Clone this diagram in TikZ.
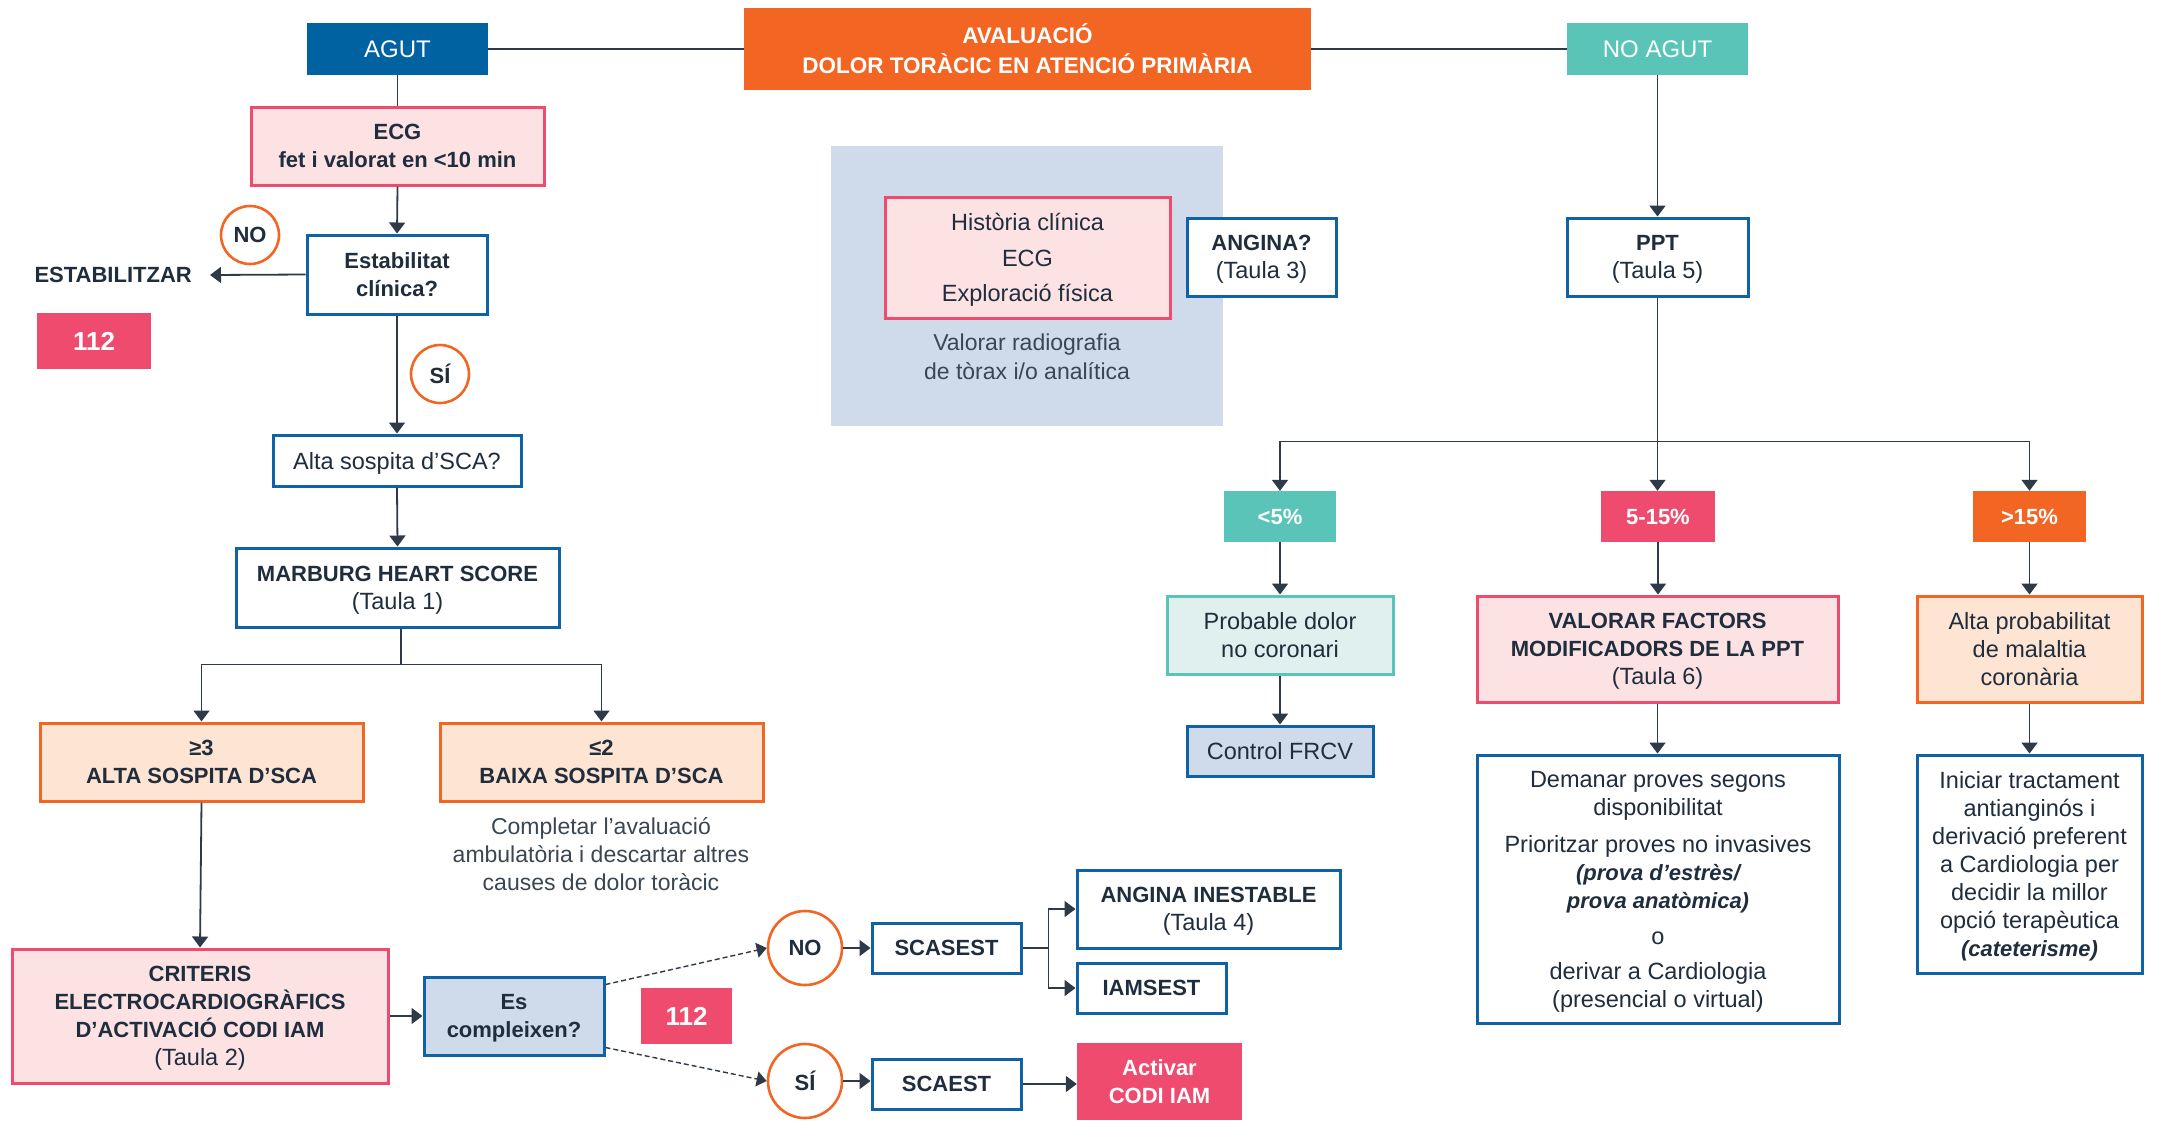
\documentclass[tikz,border=0pt]{standalone}
\usepackage{fontspec}
\setmainfont{Liberation Sans}
\usetikzlibrary{arrows.meta,calc}
\definecolor{navy}{HTML}{0062A0}
\definecolor{bord}{HTML}{0F62A6}
\definecolor{orng}{HTML}{F26522}
\definecolor{teal2}{HTML}{5BC4B9}
\definecolor{pinkred}{HTML}{EE4B6F}
\definecolor{pinkfill}{HTML}{FDE2E3}
\definecolor{orngfill}{HTML}{FDE4D3}
\definecolor{bluegray}{HTML}{CFDBEA}
\definecolor{tealfill}{HTML}{DFF0EE}
\definecolor{txt}{HTML}{1F2D3D}
\definecolor{lin}{HTML}{2E3A47}
\definecolor{soft}{HTML}{3A4652}
\newcommand{\hb}[1]{{\fontsize{22}{28}\selectfont\bfseries #1}}
\newcommand{\hbi}[1]{{\fontsize{22}{28}\selectfont\bfseries\itshape #1}}
\begin{document}
\begin{tikzpicture}[x=1pt,y=-1pt,
  every node/.style={font=\fontsize{23.5}{28}\selectfont, text=txt, inner sep=0pt, align=center, text depth=0pt},
  sz/.style 2 args={minimum width=#1, minimum height=#2},
  box/.style={rectangle, line width=3pt},
  bluebox/.style={box, draw=bord, fill=white},
  pinkbox/.style={box, draw=pinkred, fill=pinkfill},
  orngbox/.style={box, draw=orng, fill=orngfill},
  filled/.style={rectangle, fill=#1, text=white},
  bf/.style={font=\fontsize{22}{28}\selectfont\bfseries},
  big/.style={font=\fontsize{26}{30}\selectfont\bfseries},
  circ/.style={circle, draw=orng, line width=2.6pt, fill=white, font=\fontsize{22}{26}\selectfont\bfseries},
  ln/.style={draw=lin, line width=1.8pt},
  arr/.style={ln, -{Triangle[width=16pt,length=11pt]}},
  dsh/.style={draw=lin, line width=1.4pt, dash pattern=on 5pt off 3pt, -{Triangle[width=15pt,length=10pt]}}
]
\useasboundingbox (0,0) rectangle (2157,1120);

% ---------- top row
\node[filled=navy, sz={181pt}{52pt}, font=\fontsize{24}{28}\selectfont] (agut) at (397.5,49) {AGUT};
\node[filled=orng, sz={567pt}{82pt}, font=\fontsize{22.5}{30}\selectfont\bfseries] (title) at (1027.5,49) {AVALUACIÓ\\DOLOR TORÀCIC EN ATENCIÓ PRIMÀRIA};
\node[filled=teal2, sz={181pt}{52pt}, font=\fontsize{24}{28}\selectfont] (noagut) at (1657.5,49) {NO AGUT};

% ---------- left column
\node[pinkbox, sz={293pt}{78pt}, bf] (ecg) at (397.5,146) {ECG\\fet i valorat en <10 min};
\node[bluebox, sz={180pt}{79pt}, bf] (estab) at (397,274.5) {Estabilitat\\clínica?};
\node[circ, minimum size=58pt] (no1) at (250,235) {NO};
\node[bf, anchor=east, inner xsep=18pt] (estabil) at (210,275) {ESTABILITZAR};
\node[filled=pinkred, sz={114pt}{56pt}, big] (n112a) at (94,341) {112};
\node[circ, minimum size=58pt] (si1) at (440,374) {SÍ};
\node[bluebox, sz={248pt}{51pt}] (alta) at (397,460.5) {Alta sospita d’SCA?};
\node[bluebox, sz={323pt}{79pt}] (marburg) at (397.5,587.5) {\hb{MARBURG HEART SCORE}\\(Taula 1)};
\node[orngbox, sz={323pt}{78pt}, bf] (ge3) at (201.5,762) {≥3\\ALTA SOSPITA D’SCA};
\node[orngbox, sz={323pt}{78pt}, bf] (le2) at (601.5,762) {≤2\\BAIXA SOSPITA D’SCA};
\node[text=soft, font=\fontsize{23}{28}\selectfont] (completar) at (601,854) {Completar l’avaluació\\ambulatòria i descartar altres\\causes de dolor toràcic};
\node[pinkbox, sz={376pt}{134pt}] (criteris) at (200,1016) {\hb{CRITERIS}\\\hb{ELECTROCARDIOGRÀFICS}\\\hb{D’ACTIVACIÓ CODI IAM}\\(Taula 2)};
\node[box, draw=bord, fill=bluegray, sz={180pt}{78pt}, bf] (es) at (514,1016) {Es\\compleixen?};
\node[filled=pinkred, sz={91pt}{56pt}, big] (n112b) at (686.5,1016) {112};
\node[circ, minimum size=74pt] (no2) at (805,948) {NO};
\node[circ, minimum size=74pt] (si2) at (805,1081) {SÍ};
\node[bluebox, sz={149pt}{50pt}, bf] (scasest) at (946.5,948) {SCASEST};
\node[bluebox, sz={263pt}{78pt}] (anginain) at (1208.5,909) {\hb{ANGINA INESTABLE}\\(Taula 4)};
\node[bluebox, sz={149pt}{50pt}, bf] (iamsest) at (1151.5,988) {IAMSEST};
\node[bluebox, sz={149pt}{50pt}, bf] (scaest) at (946.5,1084) {SCAEST};
\node[filled=pinkred, sz={165pt}{77pt}, bf, text=white] (activar) at (1159.5,1081.5) {Activar\\CODI IAM};

% ---------- middle panel
\node[rectangle, fill=bluegray, sz={392pt}{280pt}] (panel) at (1027,286) {};
\node[pinkbox, sz={285pt}{121pt}, font=\fontsize{23.5}{35.5}\selectfont] (hist) at (1027.5,257.5) {Història clínica\\ECG\\Exploració física};
\node[text=soft, font=\fontsize{23}{29}\selectfont] (radio) at (1027,357) {Valorar radiografia\\de tòrax i/o analítica};
\node[bluebox, sz={149pt}{78pt}] (anginaq) at (1261.5,257) {\hb{ANGINA?}\\(Taula 3)};

% ---------- right column
\node[bluebox, sz={181pt}{78pt}] (ppt) at (1657.5,257) {\hb{PPT}\\(Taula 5)};
\node[filled=teal2, sz={112pt}{51pt}, bf, text=white] (lt5) at (1280,516.5) {<5\%};
\node[filled=pinkred, sz={114pt}{51pt}, bf, text=white] (mid) at (1658,516.5) {5-15\%};
\node[filled=orng, sz={113pt}{51pt}, bf, text=white] (gt15) at (2029.5,516.5) {>15\%};
\node[box, draw=teal2, fill=tealfill, sz={226pt}{78pt}] (probable) at (1280,635) {Probable dolor\\no coronari};
\node[pinkbox, sz={361pt}{106pt}] (valorar) at (1657.5,649) {\hb{VALORAR FACTORS}\\\hb{MODIFICADORS DE LA PPT}\\(Taula 6)};
\node[orngbox, sz={225pt}{106pt}] (altaprob) at (2029.5,649) {Alta probabilitat\\de malaltia\\coronària};
\node[box, draw=bord, fill=bluegray, sz={186pt}{50pt}] (control) at (1280,751) {Control FRCV};
\node[bluebox, sz={362pt}{268pt}] (demanar) at (1658,889) {Demanar proves segons\\disponibilitat\\[9pt]Prioritzar proves no invasives\\\hbi{(prova d’estrès/}\\\hbi{prova anatòmica)}\\[8pt]o\\[7pt]derivar a Cardiologia\\(presencial o virtual)};
\node[bluebox, sz={225pt}{218pt}] (iniciar) at (2029.5,864) {Iniciar tractament\\antianginós i\\derivació preferent\\a Cardiologia per\\decidir la millor\\opció terapèutica\\\hbi{(cateterisme)}};

% ---------- connectors
\draw[ln] (agut.east) -- (title.west);
\draw[ln] (title.east) -- (noagut.west);
\draw[ln] (agut.south) -- (ecg.north);
\draw[arr] (ecg.south) -- (estab.north);
\draw[arr] (estab.west) -- (estabil.east);
\draw[arr] (estab.south) -- (alta.north);
\draw[arr] (alta.south) -- (marburg.north);
\draw[ln] ([xshift=3.5pt]marburg.south) -- ++(0,36) coordinate (mbr);
\draw[arr] (mbr) -| (ge3.north);
\draw[arr] (mbr) -| (le2.north);
\draw[arr] (ge3.south) -- (criteris.north);
\draw[arr] (criteris.east) -- (es.west);
\draw[dsh] ([yshift=-9pt]es.north east) -- (no2.west);
\draw[dsh] ([yshift=9pt]es.south east) -- (si2.west);
\draw[arr] (no2.east) -- (scasest.west);
\draw[arr] (si2.east) -- (si2.east -| scaest.west);
\draw[ln] (scasest.east) -- ++(26,0) coordinate (sbr);
\draw[arr] (sbr) |- (anginain.west);
\draw[arr] (sbr) |- (iamsest.west);
\draw[arr] (scaest.east) -- (scaest.east -| activar.west);

\draw[arr] (noagut.south) -- (ppt.north);
\draw[ln] (ppt.south) -- ++(0,144) coordinate (pbr);
\draw[arr] (pbr) -| (lt5.north);
\draw[arr] (pbr) -- (pbr |- mid.north);
\draw[arr] (pbr) -| (gt15.north);
\draw[arr] (lt5.south) -- (probable.north);
\draw[arr] (mid.south) -- (mid.south |- valorar.north);
\draw[arr] (gt15.south) -- (altaprob.north);
\draw[arr] (probable.south) -- (control.north);
\draw[arr] (valorar.south) -- (valorar.south |- demanar.north);
\draw[arr] (altaprob.south) -- (iniciar.north);
\end{tikzpicture}
\end{document}
